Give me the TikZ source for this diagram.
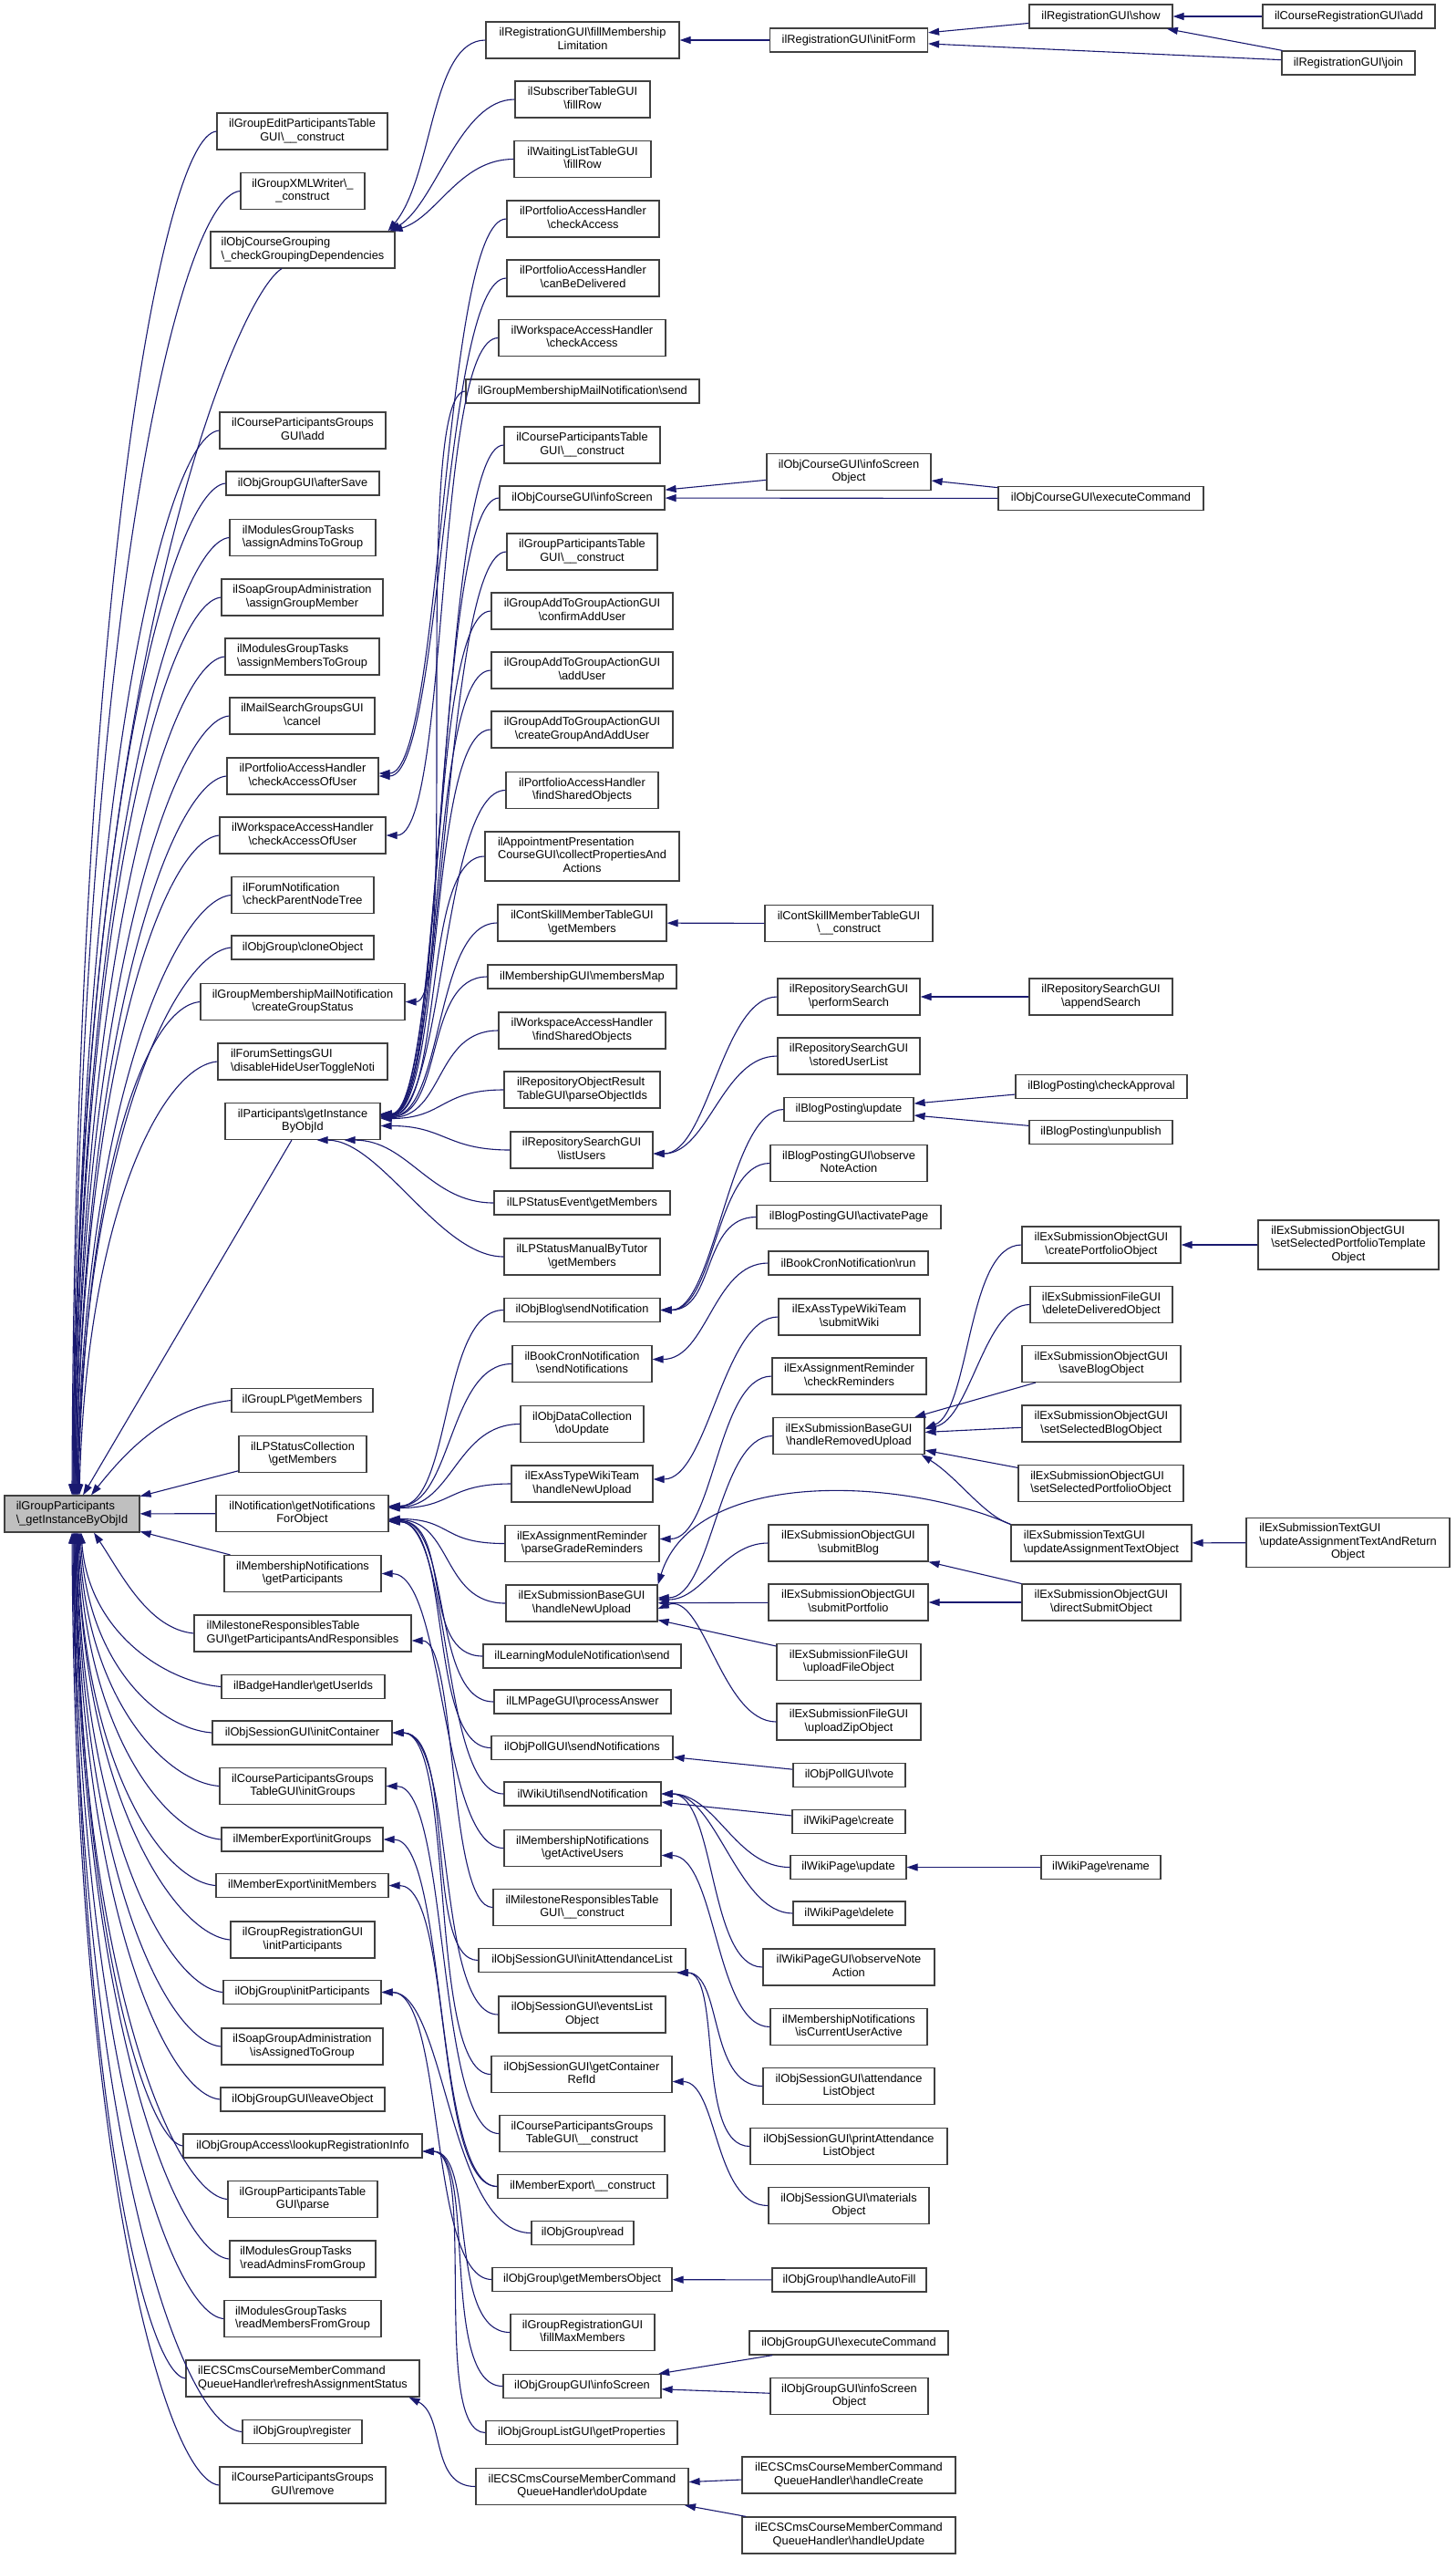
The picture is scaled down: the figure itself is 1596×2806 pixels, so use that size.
\documentclass[tikz,border=0pt]{standalone}
\usepackage{fontspec}
\setmainfont{Liberation Sans}
\usepackage{tikz}
\usetikzlibrary{arrows.meta}
\definecolor{edgeblue}{HTML}{191970}
\definecolor{boxline}{HTML}{404040}
\definecolor{rootgray}{HTML}{BFBFBF}
\newcommand{\bsl}{\textbackslash}
\newcommand{\twol}[2]{\begin{tabular}{@{}l@{}}#1\\\multicolumn{1}{@{}c@{}}{#2}\end{tabular}}
\newcommand{\threel}[3]{\begin{tabular}{@{}l@{}}#1\\#2\\\multicolumn{1}{@{}c@{}}{#3}\end{tabular}}
\tikzstyle{fn} = [draw=boxline, fill=white, line width=1.2pt, inner sep=0pt, minimum height=26pt, font=\fontsize{12.8}{14.5}\selectfont]
\tikzstyle{fn2} = [fn, minimum height=40pt]
\tikzstyle{fn3} = [fn, minimum height=54pt]
\tikzstyle{rootfn} = [fn2, fill=rootgray]
\tikzstyle{call} = [draw=edgeblue, line width=1.1pt, -{Triangle[length=12pt,width=8pt]}]

\begin{document}
\begin{tikzpicture}[x=1pt,y=-1pt]
	\useasboundingbox (0,0) rectangle (1596,2806);
	% the function itself
	\node[rootfn, minimum width=148pt] (root) at (79,1660) {\twol{ilGroupParticipants}{\bsl\_getInstanceByObjId}};
	% direct callers
	\node[fn2, minimum width=187pt] (editTbl) at (331.5,144) {\twol{ilGroupEditParticipantsTable}{GUI\bsl\_\_construct}};
	\node[fn2, minimum width=136pt] (xmlWriter) at (332,209.5) {\twol{ilGroupXMLWriter\bsl\_}{\_construct}};
	\node[fn2, minimum width=202pt] (grouping) at (332,274) {\twol{ilObjCourseGrouping}{\bsl\_checkGroupingDependencies}};
	\node[fn2, minimum width=182pt] (crsGrpAdd) at (332,472) {\twol{ilCourseParticipantsGroups}{GUI\bsl add}};
	\node[fn, minimum width=168pt] (afterSave) at (332,530) {ilObjGroupGUI\bsl afterSave};
	\node[fn2, minimum width=160pt] (assignAdmins) at (332,589.5) {\twol{ilModulesGroupTasks}{\bsl assignAdminsToGroup}};
	\node[fn2, minimum width=177pt] (soapAssign) at (331.5,655) {\twol{ilSoapGroupAdministration}{\bsl assignGroupMember}};
	\node[fn2, minimum width=169pt] (assignMembers) at (331.5,720) {\twol{ilModulesGroupTasks}{\bsl assignMembersToGroup}};
	\node[fn2, minimum width=159pt] (mailCancel) at (331.5,785) {\twol{ilMailSearchGroupsGUI}{\bsl cancel}};
	\node[fn2, minimum width=166pt] (prtfOfUser) at (332,851) {\twol{ilPortfolioAccessHandler}{\bsl checkAccessOfUser}};
	\node[fn2, minimum width=182pt] (wspOfUser) at (332,916) {\twol{ilWorkspaceAccessHandler}{\bsl checkAccessOfUser}};
	\node[fn2, minimum width=156pt] (forumTree) at (332,981.5) {\twol{ilForumNotification}{\bsl checkParentNodeTree}};
	\node[fn, minimum width=156pt] (cloneObj) at (332,1039) {ilObjGroup\bsl cloneObject};
	\node[fn2, minimum width=224pt] (grpStatus) at (332,1098.5) {\twol{ilGroupMembershipMailNotification}{\bsl createGroupStatus}};
	\node[fn2, minimum width=186pt] (forumToggle) at (332,1164) {\twol{ilForumSettingsGUI}{\bsl disableHideUserToggleNoti}};
	\node[fn2, minimum width=170pt] (partInst) at (332,1229.5) {\twol{ilParticipants\bsl getInstance}{ByObjId}};
	\node[fn, minimum width=155pt] (grpLP) at (331.5,1535.5) {ilGroupLP\bsl getMembers};
	\node[fn2, minimum width=140pt] (lpColl) at (332,1594.5) {\twol{ilLPStatusCollection}{\bsl getMembers}};
	\node[fn2, minimum width=189pt] (notif) at (331.5,1659.5) {\twol{ilNotification\bsl getNotifications}{ForObject}};
	\node[fn2, minimum width=172pt] (memNotifPart) at (332,1725.5) {\twol{ilMembershipNotifications}{\bsl getParticipants}};
	\node[fn2, minimum width=238pt] (msRespPart) at (332,1791) {\twol{ilMilestoneResponsiblesTable}{GUI\bsl getParticipantsAndResponsibles}};
	\node[fn, minimum width=179pt] (badge) at (332.5,1849.5) {ilBadgeHandler\bsl getUserIds};
	\node[fn, minimum width=197pt] (sessInitCont) at (331.5,1900) {ilObjSessionGUI\bsl initContainer};
	\node[fn2, minimum width=182pt] (crsGrpTblInit) at (332,1958.5) {\twol{ilCourseParticipantsGroups}{TableGUI\bsl initGroups}};
	\node[fn, minimum width=177pt] (expGroups) at (331.5,2017) {ilMemberExport\bsl initGroups};
	\node[fn, minimum width=189pt] (expMembers) at (331.5,2067.5) {ilMemberExport\bsl initMembers};
	\node[fn2, minimum width=158pt] (grpRegInit) at (332,2127) {\twol{ilGroupRegistrationGUI}{\bsl initParticipants}};
	\node[fn, minimum width=173pt] (grpInitPart) at (331.5,2184.5) {ilObjGroup\bsl initParticipants};
	\node[fn2, minimum width=177pt] (soapIsAssigned) at (331.5,2244) {\twol{ilSoapGroupAdministration}{\bsl isAssignedToGroup}};
	\node[fn, minimum width=180pt] (leaveObj) at (332,2302) {ilObjGroupGUI\bsl leaveObject};
	\node[fn, minimum width=262pt] (lookupReg) at (332,2353) {ilObjGroupAccess\bsl lookupRegistrationInfo};
	\node[fn2, minimum width=164pt] (grpTblParse) at (332,2411.5) {\twol{ilGroupParticipantsTable}{GUI\bsl parse}};
	\node[fn2, minimum width=160pt] (readAdmins) at (332,2477) {\twol{ilModulesGroupTasks}{\bsl readAdminsFromGroup}};
	\node[fn2, minimum width=172pt] (readMembers) at (332,2542.5) {\twol{ilModulesGroupTasks}{\bsl readMembersFromGroup}};
	\node[fn2, minimum width=256pt] (ecsRefresh) at (332,2608) {\twol{ilECSCmsCourseMemberCommand}{QueueHandler\bsl refreshAssignmentStatus}};
	\node[fn, minimum width=131pt] (grpRegister) at (331.5,2666.5) {ilObjGroup\bsl register};
	\node[fn2, minimum width=182pt] (crsGrpRemove) at (332,2725) {\twol{ilCourseParticipantsGroups}{GUI\bsl remove}};
	% second level
	\node[fn2, minimum width=212pt] (fillLimit) at (639,44) {\twol{ilRegistrationGUI\bsl fillMembership}{Limitation}};
	\node[fn2, minimum width=148pt] (subFill) at (639,109) {\twol{ilSubscriberTableGUI}{\bsl fillRow}};
	\node[fn2, minimum width=150pt] (waitFill) at (639,174.5) {\twol{ilWaitingListTableGUI}{\bsl fillRow}};
	\node[fn2, minimum width=167pt] (prtfCheck) at (639.5,240) {\twol{ilPortfolioAccessHandler}{\bsl checkAccess}};
	\node[fn2, minimum width=167pt] (prtfDeliver) at (639.5,305) {\twol{ilPortfolioAccessHandler}{\bsl canBeDelivered}};
	\node[fn2, minimum width=183pt] (wspCheck) at (638.5,370.5) {\twol{ilWorkspaceAccessHandler}{\bsl checkAccess}};
	\node[fn, minimum width=256pt] (mailSend) at (639,429) {ilGroupMembershipMailNotification\bsl send};
	\node[fn2, minimum width=171pt] (crsPartTbl) at (638.5,488) {\twol{ilCourseParticipantsTable}{GUI\bsl\_\_construct}};
	\node[fn, minimum width=181pt] (crsInfo) at (638.5,546) {ilObjCourseGUI\bsl infoScreen};
	\node[fn2, minimum width=165pt] (grpPartTbl) at (638.5,605) {\twol{ilGroupParticipantsTable}{GUI\bsl\_\_construct}};
	\node[fn2, minimum width=199pt] (confirmAdd) at (638.5,670) {\twol{ilGroupAddToGroupActionGUI}{\bsl confirmAddUser}};
	\node[fn2, minimum width=199pt] (addUser) at (638.5,735) {\twol{ilGroupAddToGroupActionGUI}{\bsl addUser}};
	\node[fn2, minimum width=199pt] (createAdd) at (638.5,800) {\twol{ilGroupAddToGroupActionGUI}{\bsl createGroupAndAddUser}};
	\node[fn2, minimum width=167pt] (prtfShared) at (638.5,866.5) {\twol{ilPortfolioAccessHandler}{\bsl findSharedObjects}};
	\node[fn3, minimum width=213pt] (appointment) at (638.5,939) {\threel{ilAppointmentPresentation}{CourseGUI\bsl collectPropertiesAnd}{Actions}};
	\node[fn2, minimum width=185pt] (skillMembers) at (638.5,1012) {\twol{ilContSkillMemberTableGUI}{\bsl getMembers}};
	\node[fn, minimum width=207pt] (membersMap) at (638.5,1071) {ilMembershipGUI\bsl membersMap};
	\node[fn2, minimum width=183pt] (wspShared) at (638.5,1130) {\twol{ilWorkspaceAccessHandler}{\bsl findSharedObjects}};
	\node[fn2, minimum width=171pt] (repoResult) at (638.5,1195) {\twol{ilRepositoryObjectResult}{TableGUI\bsl parseObjectIds}};
	\node[fn2, minimum width=156pt] (listUsers) at (638,1261) {\twol{ilRepositorySearchGUI}{\bsl listUsers}};
	\node[fn, minimum width=193pt] (lpEvent) at (638.5,1319) {ilLPStatusEvent\bsl getMembers};
	\node[fn2, minimum width=171pt] (lpTutor) at (638.5,1378) {\twol{ilLPStatusManualByTutor}{\bsl getMembers}};
	\node[fn, minimum width=171pt] (blogNotif) at (638.5,1436.5) {ilObjBlog\bsl sendNotification};
	\node[fn2, minimum width=153pt] (bookNotif) at (638.5,1495.5) {\twol{ilBookCronNotification}{\bsl sendNotifications}};
	\node[fn2, minimum width=135pt] (dclUpdate) at (638.5,1561.5) {\twol{ilObjDataCollection}{\bsl doUpdate}};
	\node[fn2, minimum width=155pt] (wikiTeamUpload) at (638.5,1627) {\twol{ilExAssTypeWikiTeam}{\bsl handleNewUpload}};
	\node[fn2, minimum width=169pt] (gradeRem) at (638.5,1692.5) {\twol{ilExAssignmentReminder}{\bsl parseGradeReminders}};
	\node[fn2, minimum width=166pt] (newUpload) at (638,1758) {\twol{ilExSubmissionBaseGUI}{\bsl handleNewUpload}};
	\node[fn, minimum width=217pt] (lmNotif) at (638.5,1816) {ilLearningModuleNotification\bsl send};
	\node[fn, minimum width=194pt] (lmAnswer) at (639,1866) {ilLMPageGUI\bsl processAnswer};
	\node[fn, minimum width=199pt] (pollNotif) at (638.5,1916.5) {ilObjPollGUI\bsl sendNotifications};
	\node[fn, minimum width=172pt] (wikiNotif) at (639,1967) {ilWikiUtil\bsl sendNotification};
	\node[fn2, minimum width=172pt] (activeUsers) at (639,2026.5) {\twol{ilMembershipNotifications}{\bsl getActiveUsers}};
	\node[fn2, minimum width=195pt] (msRespTbl) at (638.5,2091.5) {\twol{ilMilestoneResponsiblesTable}{GUI\bsl\_\_construct}};
	\node[fn, minimum width=227pt] (attList) at (638.5,2149.5) {ilObjSessionGUI\bsl initAttendanceList};
	\node[fn2, minimum width=183pt] (eventsList) at (638.5,2209) {\twol{ilObjSessionGUI\bsl eventsList}{Object}};
	\node[fn2, minimum width=198pt] (contRef) at (638,2274.5) {\twol{ilObjSessionGUI\bsl getContainer}{RefId}};
	\node[fn2, minimum width=181pt] (crsGrpTbl) at (638.5,2339.5) {\twol{ilCourseParticipantsGroups}{TableGUI\bsl\_\_construct}};
	\node[fn, minimum width=186pt] (expConstruct) at (639,2397.5) {ilMemberExport\bsl\_\_construct};
	\node[fn, minimum width=112pt] (grpRead) at (639,2448.5) {ilObjGroup\bsl read};
	\node[fn, minimum width=197pt] (membersObj) at (638.5,2499.5) {ilObjGroup\bsl getMembersObject};
	\node[fn2, minimum width=158pt] (fillMax) at (639,2557.5) {\twol{ilGroupRegistrationGUI}{\bsl fillMaxMembers}};
	\node[fn, minimum width=173pt] (grpInfo) at (638.5,2616.5) {ilObjGroupGUI\bsl infoScreen};
	\node[fn, minimum width=210pt] (grpProps) at (638,2667.5) {ilObjGroupListGUI\bsl getProperties};
	\node[fn2, minimum width=233pt] (ecsUpdate) at (638.5,2726.5) {\twol{ilECSCmsCourseMemberCommand}{QueueHandler\bsl doUpdate}};
	% third level
	\node[fn, minimum width=173pt] (initForm) at (931,44) {ilRegistrationGUI\bsl initForm};
	\node[fn2, minimum width=180pt] (crsInfoObj) at (931,517.5) {\twol{ilObjCourseGUI\bsl infoScreen}{Object}};
	\node[fn2, minimum width=184pt] (skillConstruct) at (931,1012.5) {\twol{ilContSkillMemberTableGUI}{\bsl\_\_construct}};
	\node[fn2, minimum width=156pt] (performSearch) at (931,1093) {\twol{ilRepositorySearchGUI}{\bsl performSearch}};
	\node[fn2, minimum width=156pt] (storedList) at (931,1158) {\twol{ilRepositorySearchGUI}{\bsl storedUserList}};
	\node[fn, minimum width=142pt] (postUpdate) at (931,1216.5) {ilBlogPosting\bsl update};
	\node[fn2, minimum width=172pt] (postNote) at (931,1275.5) {\twol{ilBlogPostingGUI\bsl observe}{NoteAction}};
	\node[fn, minimum width=202pt] (activatePage) at (931,1334.5) {ilBlogPostingGUI\bsl activatePage};
	\node[fn, minimum width=175pt] (bookRun) at (930.5,1385) {ilBookCronNotification\bsl run};
	\node[fn2, minimum width=155pt] (submitWiki) at (931.5,1444) {\twol{ilExAssTypeWikiTeam}{\bsl submitWiki}};
	\node[fn2, minimum width=169pt] (checkRem) at (931.5,1509) {\twol{ilExAssignmentReminder}{\bsl checkReminders}};
	\node[fn2, minimum width=166pt] (removedUpload) at (931,1574.5) {\twol{ilExSubmissionBaseGUI}{\bsl handleRemovedUpload}};
	\node[fn2, minimum width=175pt] (submitBlog) at (930.5,1692) {\twol{ilExSubmissionObjectGUI}{\bsl submitBlog}};
	\node[fn2, minimum width=175pt] (submitPrtf) at (930.5,1757) {\twol{ilExSubmissionObjectGUI}{\bsl submitPortfolio}};
	\node[fn2, minimum width=158pt] (uploadFile) at (931,1822.5) {\twol{ilExSubmissionFileGUI}{\bsl uploadFileObject}};
	\node[fn2, minimum width=158pt] (uploadZip) at (931,1888) {\twol{ilExSubmissionFileGUI}{\bsl uploadZipObject}};
	\node[fn, minimum width=123pt] (pollVote) at (931.5,1946.5) {ilObjPollGUI\bsl vote};
	\node[fn, minimum width=124pt] (wikiCreate) at (931,1997.5) {ilWikiPage\bsl create};
	\node[fn, minimum width=127pt] (wikiUpdate) at (930.5,2047.5) {ilWikiPage\bsl update};
	\node[fn, minimum width=123pt] (wikiDelete) at (931.5,2098) {ilWikiPage\bsl delete};
	\node[fn2, minimum width=188pt] (wikiNote) at (931,2157) {\twol{ilWikiPageGUI\bsl observeNote}{Action}};
	\node[fn2, minimum width=172pt] (userActive) at (931,2222.5) {\twol{ilMembershipNotifications}{\bsl isCurrentUserActive}};
	\node[fn2, minimum width=188pt] (attObj) at (931,2287.5) {\twol{ilObjSessionGUI\bsl attendance}{ListObject}};
	\node[fn2, minimum width=216pt] (printAtt) at (931,2353.5) {\twol{ilObjSessionGUI\bsl printAttendance}{ListObject}};
	\node[fn2, minimum width=176pt] (materials) at (931,2418.5) {\twol{ilObjSessionGUI\bsl materials}{Object}};
	\node[fn, minimum width=169pt] (autoFill) at (931.5,2500) {ilObjGroup\bsl handleAutoFill};
	\node[fn, minimum width=218pt] (grpExec) at (931,2569) {ilObjGroupGUI\bsl executeCommand};
	\node[fn2, minimum width=173pt] (grpInfoObj) at (931.5,2627.5) {\twol{ilObjGroupGUI\bsl infoScreen}{Object}};
	\node[fn2, minimum width=234pt] (ecsCreate) at (931,2714) {\twol{ilECSCmsCourseMemberCommand}{QueueHandler\bsl handleCreate}};
	\node[fn2, minimum width=234pt] (ecsHandleUpd) at (931,2780) {\twol{ilECSCmsCourseMemberCommand}{QueueHandler\bsl handleUpdate}};
	% fourth level
	\node[fn, minimum width=157pt] (regShow) at (1207.5,18) {ilRegistrationGUI\bsl show};
	\node[fn, minimum width=225pt] (crsExec) at (1207.5,546.5) {ilObjCourseGUI\bsl executeCommand};
	\node[fn2, minimum width=157pt] (appendSearch) at (1207.5,1093) {\twol{ilRepositorySearchGUI}{\bsl appendSearch}};
	\node[fn, minimum width=188pt] (checkApproval) at (1208,1191.5) {ilBlogPosting\bsl checkApproval};
	\node[fn, minimum width=157pt] (unpublish) at (1207.5,1241.5) {ilBlogPosting\bsl unpublish};
	\node[fn2, minimum width=174pt] (createPrtf) at (1208,1365) {\twol{ilExSubmissionObjectGUI}{\bsl createPortfolioObject}};
	\node[fn2, minimum width=156pt] (deleteDelivered) at (1208,1430.5) {\twol{ilExSubmissionFileGUI}{\bsl deleteDeliveredObject}};
	\node[fn2, minimum width=174pt] (saveBlog) at (1208,1495.5) {\twol{ilExSubmissionObjectGUI}{\bsl saveBlogObject}};
	\node[fn2, minimum width=174pt] (selBlog) at (1208,1561) {\twol{ilExSubmissionObjectGUI}{\bsl setSelectedBlogObject}};
	\node[fn2, minimum width=181pt] (selPrtf) at (1207.5,1626.5) {\twol{ilExSubmissionObjectGUI}{\bsl setSelectedPortfolioObject}};
	\node[fn2, minimum width=198pt] (textObj) at (1208,1692) {\twol{ilExSubmissionTextGUI}{\bsl updateAssignmentTextObject}};
	\node[fn2, minimum width=174pt] (directSubmit) at (1208,1757) {\twol{ilExSubmissionObjectGUI}{\bsl directSubmitObject}};
	\node[fn, minimum width=131pt] (wikiRename) at (1207.5,2047.5) {ilWikiPage\bsl rename};
	% fifth level
	\node[fn, minimum width=189pt] (crsRegAdd) at (1479.5,18) {ilCourseRegistrationGUI\bsl add};
	\node[fn, minimum width=146pt] (regJoin) at (1479,69) {ilRegistrationGUI\bsl join};
	\node[fn3, minimum width=198pt] (selPrtfTpl) at (1479,1365) {\threel{ilExSubmissionObjectGUI}{\bsl setSelectedPortfolioTemplate}{Object}};
	\node[fn3, minimum width=223pt] (textReturn) at (1478.5,1691.5) {\threel{ilExSubmissionTextGUI}{\bsl updateAssignmentTextAndReturn}{Object}};

	% calls into the function
	\draw[call] (editTbl.west) .. controls +(-60,5) and +(3,-972) .. (root.north);
	\draw[call] (xmlWriter.west) .. controls +(-70,5) and +(3,-930) .. ([xshift=1pt]root.north);
	\draw[call] ([xshift=-23pt]grouping.south) .. controls +(-50,30) and +(4,-900) .. ([xshift=1pt]root.north);
	\draw[call] (crsGrpAdd.west) .. controls +(-60,5) and +(4,-760) .. ([xshift=2pt]root.north);
	\draw[call] (afterSave.west) .. controls +(-60,5) and +(4,-720) .. ([xshift=2pt]root.north);
	\draw[call] (assignAdmins.west) .. controls +(-60,5) and +(4,-683) .. ([xshift=3pt]root.north);
	\draw[call] (soapAssign.west) .. controls +(-60,5) and +(5,-640) .. ([xshift=3pt]root.north);
	\draw[call] (assignMembers.west) .. controls +(-60,5) and +(5,-598) .. ([xshift=4pt]root.north);
	\draw[call] (mailCancel.west) .. controls +(-60,5) and +(5,-556) .. ([xshift=4pt]root.north);
	\draw[call] (prtfOfUser.west) .. controls +(-60,5) and +(6,-513) .. ([xshift=5pt]root.north);
	\draw[call] (wspOfUser.west) .. controls +(-60,5) and +(6,-470) .. ([xshift=5pt]root.north);
	\draw[call] (forumTree.west) .. controls +(-60,5) and +(6,-428) .. ([xshift=6pt]root.north);
	\draw[call] (cloneObj.west) .. controls +(-60,5) and +(7,-390) .. ([xshift=6pt]root.north);
	\draw[call] (grpStatus.west) .. controls +(-60,5) and +(7,-352) .. ([xshift=7pt]root.north);
	\draw[call] (forumToggle.west) .. controls +(-60,5) and +(8,-310) .. ([xshift=8pt]root.north);
	\draw[call] (partInst) -- (root);
	\draw[call] (grpLP.west) .. controls +(-70,8) and +(40,-50) .. ([xshift=21pt]root.north);
	\draw[call] (lpColl) -- (root);
	\draw[call] (notif) -- (root);
	\draw[call] (memNotifPart) -- (root);
	\draw[call] (msRespPart.west) .. controls +(-50,-5) and +(30,45) .. ([xshift=24pt]root.south);
	\draw[call] (badge.west) .. controls +(-60,-5) and +(8,110) .. ([xshift=10pt]root.south);
	\draw[call] (sessInitCont.west) .. controls +(-60,-5) and +(8,143) .. ([xshift=9pt]root.south);
	\draw[call] (crsGrpTblInit.west) .. controls +(-60,-5) and +(7,181) .. ([xshift=8pt]root.south);
	\draw[call] (expGroups.west) .. controls +(-60,-5) and +(7,219) .. ([xshift=7pt]root.south);
	\draw[call] (expMembers.west) .. controls +(-60,-5) and +(6,252) .. ([xshift=6pt]root.south);
	\draw[call] (grpRegInit.west) .. controls +(-60,-5) and +(6,290) .. ([xshift=6pt]root.south);
	\draw[call] (grpInitPart.west) .. controls +(-60,-5) and +(6,328) .. ([xshift=5pt]root.south);
	\draw[call] (soapIsAssigned.west) .. controls +(-60,-5) and +(5,367) .. ([xshift=5pt]root.south);
	\draw[call] (leaveObj.west) .. controls +(-60,-5) and +(5,404) .. ([xshift=4pt]root.south);
	\draw[call] (lookupReg.west) .. controls +(-40,-5) and +(5,437) .. ([xshift=4pt]root.south);
	\draw[call] (grpTblParse.west) .. controls +(-60,-5) and +(4,476) .. ([xshift=3pt]root.south);
	\draw[call] (readAdmins.west) .. controls +(-60,-5) and +(4,518) .. ([xshift=3pt]root.south);
	\draw[call] (readMembers.west) .. controls +(-60,-5) and +(4,561) .. ([xshift=2pt]root.south);
	\draw[call] (ecsRefresh.west) .. controls +(-45,-5) and +(3,603) .. ([xshift=2pt]root.south);
	\draw[call] (grpRegister.west) .. controls +(-70,-5) and +(3,641) .. ([xshift=1pt]root.south);
	\draw[call] (crsGrpRemove.west) .. controls +(-60,-5) and +(3,679) .. (root.south);

	% second level calls
	\draw[call] (fillLimit.west) .. controls +(-60,0) and +(50,-60) .. ([xshift=-8pt]grouping.north east);
	\draw[call] (subFill.west) .. controls +(-60,0) and +(50,-30) .. ([xshift=-6pt]grouping.north east);
	\draw[call] (waitFill.west) .. controls +(-60,0) and +(50,-15) .. ([xshift=-4pt]grouping.north east);
	\draw[call] (prtfCheck.west) .. controls +(-70,0) and +(70,0) .. ([yshift=3pt]prtfOfUser.east);
	\draw[call] (prtfDeliver.west) .. controls +(-70,0) and +(70,0) .. (prtfOfUser.east);
	\draw[call] (wspCheck.west) .. controls +(-70,0) and +(70,0) .. (wspOfUser.east);
	\draw[call] (mailSend.west) .. controls +(-60,0) and +(60,0) .. (grpStatus.east);
	\draw[call] (crsPartTbl.west) .. controls +(-70,0) and +(70,0) .. ([yshift=8pt]partInst.east);
	\draw[call] (crsInfo.west) .. controls +(-70,0) and +(70,0) .. ([yshift=8pt]partInst.east);
	\draw[call] (grpPartTbl.west) .. controls +(-70,0) and +(70,0) .. ([yshift=8pt]partInst.east);
	\draw[call] (confirmAdd.west) .. controls +(-70,0) and +(70,0) .. ([yshift=7pt]partInst.east);
	\draw[call] (addUser.west) .. controls +(-70,0) and +(70,0) .. ([yshift=7pt]partInst.east);
	\draw[call] (createAdd.west) .. controls +(-70,0) and +(70,0) .. ([yshift=7pt]partInst.east);
	\draw[call] (prtfShared.west) .. controls +(-70,0) and +(70,0) .. ([yshift=6pt]partInst.east);
	\draw[call] (appointment.west) .. controls +(-70,0) and +(70,0) .. ([yshift=6pt]partInst.east);
	\draw[call] (skillMembers.west) .. controls +(-70,0) and +(70,0) .. ([yshift=5pt]partInst.east);
	\draw[call] (membersMap.west) .. controls +(-70,0) and +(70,0) .. ([yshift=5pt]partInst.east);
	\draw[call] (wspShared.west) .. controls +(-70,0) and +(70,0) .. ([yshift=4pt]partInst.east);
	\draw[call] (repoResult.west) .. controls +(-70,0) and +(70,0) .. ([yshift=3pt]partInst.east);
	\draw[call] (listUsers.west) .. controls +(-70,0) and +(70,0) .. ([yshift=-5pt]partInst.east);
	\draw[call] (lpEvent.west) .. controls +(-70,0) and +(70,0) .. ([xshift=-40pt]partInst.south east);
	\draw[call] (lpTutor.west) .. controls +(-70,0) and +(70,0) .. ([xshift=-70pt]partInst.south east);
	\draw[call] (blogNotif.west) .. controls +(-70,0) and +(70,0) .. ([yshift=8pt]notif.east);
	\draw[call] (bookNotif.west) .. controls +(-70,0) and +(70,0) .. ([yshift=8pt]notif.east);
	\draw[call] (dclUpdate.west) .. controls +(-70,0) and +(70,0) .. ([yshift=7pt]notif.east);
	\draw[call] (wikiTeamUpload.west) .. controls +(-70,0) and +(70,0) .. ([yshift=6pt]notif.east);
	\draw[call] (gradeRem.west) .. controls +(-70,0) and +(70,0) .. ([yshift=-6pt]notif.east);
	\draw[call] (newUpload.west) .. controls +(-70,0) and +(70,0) .. ([yshift=-7pt]notif.east);
	\draw[call] (lmNotif.west) .. controls +(-70,0) and +(70,0) .. ([yshift=-8pt]notif.east);
	\draw[call] (lmAnswer.west) .. controls +(-70,0) and +(70,0) .. ([yshift=-8pt]notif.east);
	\draw[call] (pollNotif.west) .. controls +(-70,0) and +(70,0) .. ([yshift=-9pt]notif.east);
	\draw[call] (wikiNotif.west) .. controls +(-70,0) and +(70,0) .. ([yshift=-9pt]notif.east);
	\draw[call] (activeUsers.west) .. controls +(-70,0) and +(70,0) .. (memNotifPart.east);
	\draw[call] (msRespTbl.west) .. controls +(-50,0) and +(50,0) .. ([yshift=-8pt]msRespPart.east);
	\draw[call] (attList.west) .. controls +(-60,0) and +(70,0) .. (sessInitCont.east);
	\draw[call] (eventsList.west) .. controls +(-70,0) and +(70,0) .. (sessInitCont.east);
	\draw[call] (contRef.west) .. controls +(-70,0) and +(70,0) .. (sessInitCont.east);
	\draw[call] (crsGrpTbl.west) .. controls +(-70,0) and +(70,0) .. (crsGrpTblInit.east);
	\draw[call] (expConstruct.west) .. controls +(-70,0) and +(70,0) .. (expGroups.east);
	\draw[call] (expConstruct.west) .. controls +(-70,0) and +(70,0) .. (expMembers.east);
	\draw[call] (grpRead.west) .. controls +(-90,0) and +(70,0) .. (grpInitPart.east);
	\draw[call] (membersObj.west) .. controls +(-70,0) and +(70,0) .. (grpInitPart.east);
	\draw[call] (fillMax.west) .. controls +(-70,0) and +(60,0) .. ([yshift=-6pt]lookupReg.east);
	\draw[call] (grpInfo.west) .. controls +(-70,0) and +(60,0) .. ([yshift=-6pt]lookupReg.east);
	\draw[call] (grpProps.west) .. controls +(-60,0) and +(60,0) .. ([yshift=-6pt]lookupReg.east);
	\draw[call] (ecsUpdate.west) .. controls +(-50,0) and +(40,20) .. ([xshift=-12pt]ecsRefresh.south east);

	% third level calls
	\draw[call] (initForm) -- (fillLimit);
	\draw[call] (crsInfoObj) -- (crsInfo);
	\draw[call] (skillConstruct) -- (skillMembers);
	\draw[call] (performSearch.west) .. controls +(-60,0) and +(60,0) .. ([yshift=-4pt]listUsers.east);
	\draw[call] (storedList.west) .. controls +(-60,0) and +(60,0) .. ([yshift=-4pt]listUsers.east);
	\draw[call] (postUpdate.west) .. controls +(-60,0) and +(60,0) .. (blogNotif.east);
	\draw[call] (postNote.west) .. controls +(-60,0) and +(60,0) .. (blogNotif.east);
	\draw[call] (activatePage.west) .. controls +(-60,0) and +(60,0) .. (blogNotif.east);
	\draw[call] (bookRun.west) .. controls +(-60,0) and +(60,0) .. ([yshift=5pt]bookNotif.east);
	\draw[call] (submitWiki.west) .. controls +(-60,0) and +(60,0) .. ([yshift=5pt]wikiTeamUpload.east);
	\draw[call] (checkRem.west) .. controls +(-60,0) and +(60,0) .. ([yshift=5pt]gradeRem.east);
	\draw[call] (removedUpload.west) .. controls +(-60,0) and +(60,0) .. ([yshift=6pt]newUpload.east);
	\draw[call] (submitBlog.west) .. controls +(-50,0) and +(50,0) .. ([yshift=4pt]newUpload.east);
	\draw[call] (submitPrtf) -- (newUpload);
	\draw[call] (uploadFile) -- (newUpload);
	\draw[call] (uploadZip.west) .. controls +(-60,0) and +(50,-20) .. ([yshift=-6pt]newUpload.east);
	\draw[call] (pollVote) -- (pollNotif);
	\draw[call] (wikiCreate) -- (wikiNotif);
	\draw[call] (wikiUpdate.west) .. controls +(-60,0) and +(60,0) .. (wikiNotif.east);
	\draw[call] (wikiDelete.west) .. controls +(-60,0) and +(60,0) .. (wikiNotif.east);
	\draw[call] (wikiNote.west) .. controls +(-60,0) and +(60,0) .. (wikiNotif.east);
	\draw[call] (userActive.west) .. controls +(-60,0) and +(60,0) .. ([yshift=-8pt]activeUsers.east);
	\draw[call] (attObj.west) .. controls +(-60,0) and +(50,0) .. ([xshift=-10pt]attList.south east);
	\draw[call] (printAtt.west) .. controls +(-60,0) and +(50,0) .. ([xshift=-10pt]attList.south east);
	\draw[call] (materials.west) .. controls +(-60,0) and +(50,0) .. ([yshift=-8pt]contRef.east);
	\draw[call] (autoFill) -- (membersObj);
	\draw[call] (grpExec) -- (grpInfo);
	\draw[call] (grpInfoObj) -- (grpInfo);
	\draw[call] (ecsCreate) -- (ecsUpdate);
	\draw[call] (ecsHandleUpd) -- (ecsUpdate);

	% fourth and fifth level calls
	\draw[call] (regShow) -- (initForm);
	\draw[call] (regJoin) -- (initForm);
	\draw[call] (crsExec) -- (crsInfo);
	\draw[call] (crsExec) -- (crsInfoObj);
	\draw[call] (appendSearch) -- (performSearch);
	\draw[call] (checkApproval) -- (postUpdate);
	\draw[call] (unpublish) -- (postUpdate);
	\draw[call] (createPrtf.west) .. controls +(-60,0) and +(50,-20) .. ([yshift=8pt]removedUpload.east);
	\draw[call] (deleteDelivered.west) .. controls +(-50,0) and +(50,-10) .. ([yshift=8pt]removedUpload.east);
	\draw[call] (saveBlog) -- (removedUpload);
	\draw[call] (selBlog) -- (removedUpload);
	\draw[call] (selPrtf) -- (removedUpload);
	\draw[call] (textObj.north west) .. controls +(-30,-10) and +(40,25) .. ([xshift=-4pt]removedUpload.south east);
	\draw[call] (textObj.north west) .. controls +(-120,-52) and +(40,-128) .. (newUpload.north east);
	\draw[call] (directSubmit) -- (submitBlog);
	\draw[call] (directSubmit) -- (submitPrtf);
	\draw[call] (wikiRename) -- (wikiUpdate);
	\draw[call] (crsRegAdd) -- (regShow);
	\draw[call] (regJoin) -- (regShow);
	\draw[call] (selPrtfTpl) -- (createPrtf);
	\draw[call] (textReturn) -- (textObj);
\end{tikzpicture}
\end{document}
